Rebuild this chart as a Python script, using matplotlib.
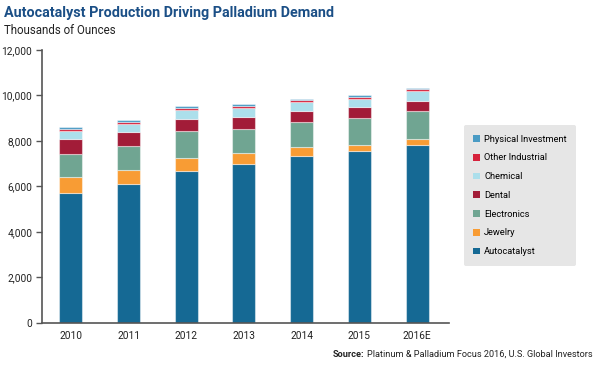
import matplotlib
matplotlib.use("Agg")
import matplotlib.pyplot as plt
from matplotlib.patches import Patch

# values (thousands of ounces)
years = ["2010", "2011", "2012", "2013", "2014", "2015", "2016E"]
autocatalyst = [5700, 6100, 6680, 6990, 7340, 7560, 7830]
jewelry = [710, 620, 570, 465, 380, 265, 250]
electronics = [1025, 1070, 1190, 1070, 1130, 1200, 1220]
dental = [645, 590, 540, 515, 485, 470, 455]
chemical = [365, 350, 395, 425, 370, 365, 425]
other_industrial = [90, 100, 90, 85, 100, 90, 100]
physical_investment = [100, 80, 70, 60, 60, 60, 45]

series = [
    ("Autocatalyst", autocatalyst, "#156994"),
    ("Jewelry", jewelry, "#f89c34"),
    ("Electronics", electronics, "#70a592"),
    ("Dental", dental, "#a21c38"),
    ("Chemical", chemical, "#acdfeb"),
    ("Other Industrial", other_industrial, "#d6223c"),
    ("Physical Investment", physical_investment, "#4a9bc4"),
]

FONT = ["Liberation Sans Narrow", "Roboto", "DejaVu Sans"]
plt.rcParams["font.family"] = FONT

fig = plt.figure(figsize=(6, 3.66), dpi=100)
ax = fig.add_axes([0.07, 0.1175, 0.678, 0.746])

x = list(range(len(years)))
bottom = [0] * len(years)
for name, vals, col in series:
    ax.bar(x, vals, bottom=bottom, width=0.4, color=col,
           edgecolor=(1, 1, 1, 0.45), linewidth=0.8, label=name)
    bottom = [b + v for b, v in zip(bottom, vals)]

ax.set_ylim(0, 12000)
ax.set_xlim(-0.5, 6.55)
ax.set_yticks(range(0, 12001, 2000))
ax.set_yticklabels([f"{v:,}" for v in range(0, 12001, 2000)])
ax.set_xticks(x)
ax.set_xticklabels(years)
ax.tick_params(axis="y", length=4, width=1, color="#555555",
               labelsize=7.3, labelcolor="#222222", pad=3)
ax.tick_params(axis="x", length=0, labelsize=7.3, labelcolor="#222222", pad=6)
for s in ["top", "right"]:
    ax.spines[s].set_visible(False)
for s in ["left", "bottom"]:
    ax.spines[s].set_color("#555555")
    ax.spines[s].set_linewidth(1.2)

handles = [Patch(facecolor=col, label=name) for name, vals, col in series][::-1]
leg = fig.legend(handles=handles, loc="center left", bbox_to_anchor=(0.773, 0.466),
                 frameon=True, facecolor="#e6e6e6", edgecolor="none", fancybox=True,
                 fontsize=6.7, handlelength=0.75, handleheight=0.75, handletextpad=0.45,
                 labelspacing=1.05, borderpad=1.0, borderaxespad=0)
leg.get_frame().set_alpha(1)

fig.text(0.007, 0.965, "Autocatalyst Production Driving Palladium Demand",
         fontsize=10.4, fontweight="bold", color="#1b4f86", va="center", ha="left")
fig.text(0.007, 0.918, "Thousands of Ounces", fontsize=8.3, color="#222222",
         va="center", ha="left")

fig.text(0.988, 0.032, "Platinum & Palladium Focus 2016, U.S. Global Investors",
         fontsize=6.6, color="#222222", ha="right", va="center")
src = fig.text(0.0, 0.032, "Source:", fontsize=6.6, fontweight="bold",
               color="#222222", ha="right", va="center")

# place the bold "Source:" just left of the regular text
fig.canvas.draw()
r = fig.texts[-2].get_window_extent()
inv = fig.transFigure.inverted()
src.set_position((inv.transform((r.x0 - 2.5, 0))[0], 0.032))

fig.savefig("out.png", dpi=100)
